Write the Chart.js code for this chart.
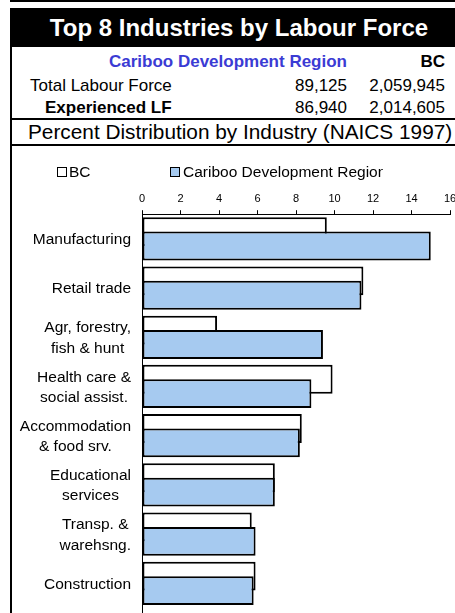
<!DOCTYPE html>
<html>
<head>
<meta charset="utf-8">
<script src="https://cdn.jsdelivr.net/npm/chart.js@4/dist/chart.umd.min.js"></script>
<style>
  html, body { margin:0; padding:0; background:#fff; width:455px; height:613px; overflow:hidden; position:relative;
    font-family:"Liberation Sans", Arial, Helvetica, sans-serif; color:#000; }
  .abs { position:absolute; white-space:nowrap; }
  .line { position:absolute; background:#000; }
  .hrow { position:absolute; height:22px; line-height:22px; font-size:17px; white-space:nowrap; }
  #chartWrap { position:absolute; left:11px; top:145px; width:444px; height:468px; }
  .lg { position:absolute; top:163px; height:18px; line-height:18px; font-size:15.5px; white-space:nowrap; }
  .lgbox { position:absolute; top:4px; width:8px; height:8px; border:1.5px solid #000; }
</style>
</head>
<body>
<div class="line" style="left:10px;top:0;width:445px;height:2px"></div>
<div class="line" style="left:10px;top:8px;width:445px;height:39px"></div>
<div class="abs" style="left:0;top:8px;width:478px;height:39px;line-height:39px;text-align:center;color:#fff;font-weight:bold;font-size:24px">Top 8 Industries by Labour Force</div>
<div class="line" style="left:10px;top:47px;width:2px;height:566px"></div>

<div class="hrow" style="right:108px;top:51px;font-weight:bold;color:#3B3BD4">Cariboo Development Region</div>
<div class="hrow" style="right:10px;top:51px;font-weight:bold">BC</div>
<div class="hrow" style="left:30px;top:75px">Total Labour Force</div>
<div class="hrow" style="right:108px;top:75px">89,125</div>
<div class="hrow" style="right:10px;top:75px">2,059,945</div>
<div class="hrow" style="left:45px;top:97px;font-weight:bold">Experienced LF</div>
<div class="hrow" style="right:108px;top:97px">86,940</div>
<div class="hrow" style="right:10px;top:97px">2,014,605</div>
<div class="line" style="left:10px;top:118px;width:445px;height:2px"></div>
<div class="abs" style="left:28px;top:120px;height:24px;line-height:24px;font-size:20.8px">Percent Distribution by Industry (NAICS 1997)</div>
<div class="line" style="left:10px;top:144px;width:445px;height:2px"></div>

<div id="chartWrap"><canvas id="c" width="444" height="468"></canvas></div>

<div class="lg" style="left:57px;width:40px">
  <span class="lgbox" style="left:0;background:#fff"></span>
  <span style="position:absolute;left:12px;top:0">BC</span>
</div>
<div class="lg" style="left:170px;width:213px;overflow:hidden">
  <span class="lgbox" style="left:0;background:#A6CAF0"></span>
  <span style="position:absolute;left:13px;top:0">Cariboo Development Region</span>
</div>

<script>
const categories = [
  ["Manufacturing"],
  ["Retail trade"],
  ["Agr, forestry,", "fish & hunt"],
  ["Health care &", "social assist."],
  ["Accommodation", "& food srv."],
  ["Educational", "services"],
  ["Transp. &", "warehsng."],
  ["Construction"]
];
const bcValues = [9.6, 11.5, 3.9, 9.9, 8.3, 6.9, 5.7, 5.9];
const caribooValues = [15.0, 11.4, 9.4, 8.8, 8.2, 6.9, 5.9, 5.8];
const xTicks = [0, 2, 4, 6, 8, 10, 12, 14, 16];
const seriesNames = ["BC", "Cariboo Development Region"];

const FONT = '"Liberation Sans", Arial, Helvetica, sans-serif';

// Draw BC (upper bar) first so the Cariboo bar overlaps it, as in the original
const orderPlugin = {
  id: 'drawOrder',
  beforeDatasetsDraw(chart) {
    const meta = chart.getDatasetMeta(0);
    const area = chart.chartArea;
    const ctx = chart.ctx;
    ctx.save();
    ctx.beginPath();
    ctx.rect(area.left - 2, area.top - 2, area.right - area.left + 4, area.bottom - area.top + 4);
    ctx.clip();
    meta.controller.draw();
    ctx.restore();
  },
  beforeDatasetDraw(chart, args) {
    if (args.index === 0) return false;
  }
};

const labelPlugin = {
  id: 'blockLabels',
  afterDraw(chart) {
    const ctx = chart.ctx;
    const y = chart.scales.y;
    const area = chart.chartArea;
    ctx.save();
    ctx.strokeStyle = '#000';
    ctx.lineWidth = 1;
    ctx.beginPath();
    ctx.moveTo(area.left + 0.5, area.bottom);
    ctx.lineTo(area.left + 0.5, chart.height);
    ctx.stroke();
    ctx.font = '15.5px ' + FONT;
    ctx.fillStyle = '#000';
    ctx.textAlign = 'center';
    ctx.textBaseline = 'middle';
    const right = area.left - 11;
    const lh = 20.5;
    categories.forEach((lines, i) => {
      const cy = y.getPixelForTick(i) + 1;
      let w = 0;
      lines.forEach(l => { w = Math.max(w, ctx.measureText(l).width); });
      const cx = right - w / 2;
      const top = cy - (lines.length - 1) * lh / 2;
      lines.forEach((l, k) => ctx.fillText(l, cx, top + k * lh));
    });
    ctx.restore();
  }
};

new Chart(document.getElementById('c'), {
  type: 'bar',
  data: {
    labels: categories,
    datasets: [
      { label: seriesNames[0], data: bcValues, backgroundColor: '#FFFFFF', borderColor: '#000000', borderWidth: 2, borderSkipped: false },
      { label: seriesNames[1], data: caribooValues, backgroundColor: '#A6CAF0', borderColor: '#000000', borderWidth: 2, borderSkipped: false }
    ]
  },
  options: {
    indexAxis: 'y',
    responsive: false,
    animation: false,
    datasets: { bar: { categoryPercentage: 0.586, barPercentage: 2.0 } },
    layout: { padding: { top: 42, right: 5, bottom: 5, left: 0 } },
    plugins: { legend: { display: false }, tooltip: { enabled: false }, title: { display: false } },
    scales: {
      x: {
        position: 'top',
        min: 0, max: 16,
        afterBuildTicks(scale) { scale.ticks = xTicks.map(v => ({ value: v })); },
        afterFit(scale) { scale.paddingRight = 0; scale.paddingLeft = 0; },
        ticks: { color: '#000', padding: 5, font: { family: FONT, size: 11 }, maxRotation: 0 },
        grid: { drawOnChartArea: false, drawTicks: true, tickLength: 4, color: '#000' },
        border: { display: true, color: '#000', width: 1 }
      },
      y: {
        type: 'category',
        ticks: { display: false },
        grid: { display: false },
        border: { display: true, color: '#000', width: 1 },
        afterFit(scale) { scale.width = 131; }
      }
    }
  },
  plugins: [orderPlugin, labelPlugin]
});
</script>
</body>
</html>
